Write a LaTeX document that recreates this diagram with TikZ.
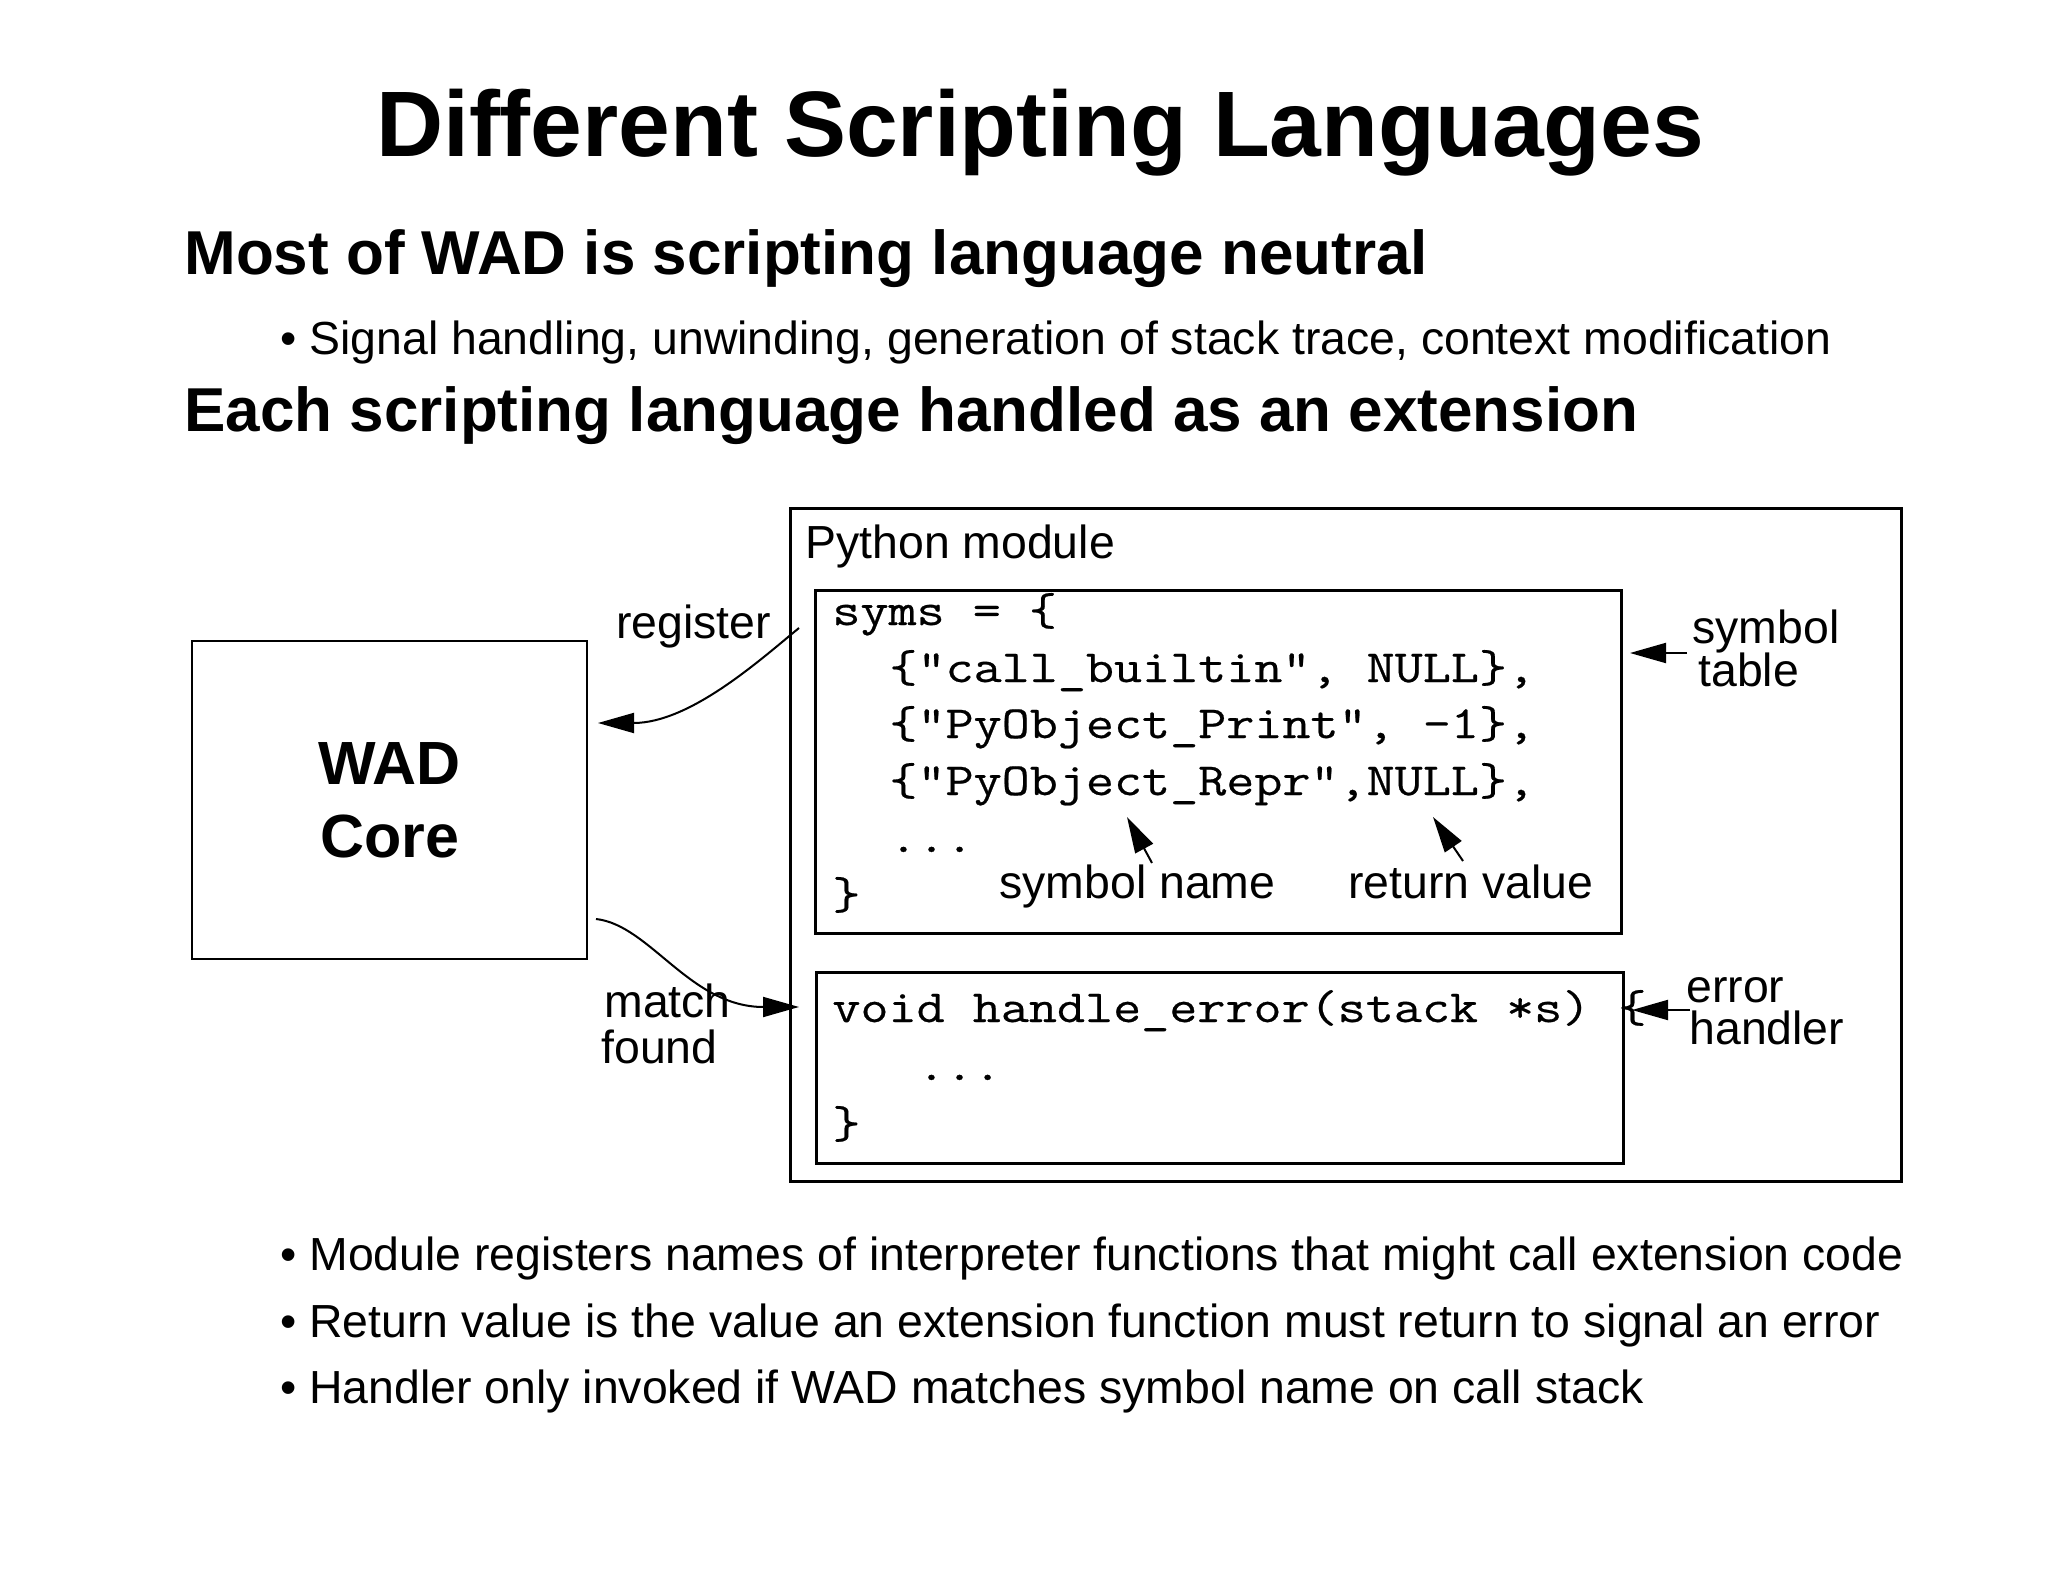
\documentclass[tikz,border=0pt]{standalone}
\usepackage{fontspec}
\setmainfont{Liberation Sans}
\newfontfamily\codefont[FakeStretch=1.185,FakeBold=0.5]{Latin Modern Mono}
\usetikzlibrary{arrows.meta}
\begin{document}
\begin{tikzpicture}[x=0.5pt,y=-0.5pt,
  txt/.style={anchor=base west, inner sep=0, font=\fontsize{23.2}{27}\selectfont},
  head/.style={anchor=base west, inner sep=0, font=\bfseries\fontsize{31}{36}\selectfont},
  code/.style={anchor=base west, inner sep=0, font=\codefont\fontsize{23}{27}\selectfont},
  box/.style={draw, line width=1.3pt, inner sep=0, anchor=north west},
  conn/.style={line width=1pt, -{Triangle[length=18pt,width=10pt]}},
]
\useasboundingbox (0,0) rectangle (2048,1582);

% headings
\node[anchor=base, inner sep=0, font=\bfseries\fontsize{46.5}{52}\selectfont] (title) at (1040,157) {Different Scripting Languages};
\node[head] (h1) at (184,275) {Most of WAD is scripting language neutral};
\node[txt] (b1) at (280,355) {• Signal handling, unwinding, generation of stack trace, context modification};
\node[head] (h2) at (184,432) {Each scripting language handled as an extension};

% WAD core
\node[box, minimum width=197.5pt, minimum height=159pt, anchor=center, align=center,
      font=\bfseries\fontsize{30.5}{36.5}\selectfont] (wad) at (389.5,800) {WAD\\Core};

% Python module
\node[box, minimum width=555.5pt, minimum height=336.5pt] (py) at (789,507) {};
\node[txt] (pylabel) at (805,559) {Python module};

\node[box, minimum width=403pt, minimum height=171.5pt] (syms) at (814,589) {};
\node[code] (c1) at (832,625) {syms = \{};
\node[code] (c2) at (889,682) {\{"call\_builtin", NULL\},};
\node[code] (c3) at (889,738) {\{"PyObject\_Print", -1\},};
\node[code] (c4) at (889,795) {\{"PyObject\_Repr",NULL\},};
\node[code] (c5) at (889,852) {...};
\node[code] (c6) at (832,909) {\}};

\node[box, minimum width=403.5pt, minimum height=95.5pt] (err) at (815,971) {};
\node[code] (e1) at (832,1022) {void handle\_error(stack *s) \{};
\node[code] (e2) at (917,1080) {...};
\node[code] (e3) at (832,1138) {\}};

% labels
\node[txt] (reg) at (616,638) {register};
\node[txt] (match) at (604,1017) {match};
\node[txt] (found) at (601,1063) {found};
\node[txt] (symA) at (1692,643) {symbol};
\node[txt] (symB) at (1698,686) {table};
\node[txt] (errA) at (1686,1002) {error};
\node[txt] (errB) at (1689,1044) {handler};
\node[txt] (symname) at (999,898) {symbol name};
\node[txt] (retval) at (1348,898) {return value};

% bottom bullets
\node[txt] (b2) at (280,1270) {• Module registers names of interpreter functions that might call extension code};
\node[txt] (b3) at (280,1337) {• Return value is the value an extension function must return to signal an error};
\node[txt] (b4) at (280,1403) {• Handler only invoked if WAD matches symbol name on call stack};

% connector end points
\coordinate (regs) at (799,628);
\coordinate (regt) at (598,723);
\coordinate (mats) at (596,919);
\coordinate (matt) at (799,1007);
\coordinate (sts) at (1687,653);
\coordinate (stt) at (1630,653);
\coordinate (ehs) at (1690,1010);
\coordinate (eht) at (1632,1010);
\coordinate (sns) at (1152,863);
\coordinate (snt) at (1127,817);
\coordinate (rvs) at (1463,861);
\coordinate (rvt) at (1433,817);

\draw[conn] (regs) .. controls (760,660) and (690,723) .. (regt);
\draw[conn] (mats) .. controls (650,925) and (690,1007) .. (matt);
\draw[conn] (sts) -- (stt);
\draw[conn] (ehs) -- (eht);
\draw[conn] (sns) -- (snt);
\draw[conn] (rvs) -- (rvt);
\end{tikzpicture}
\end{document}
